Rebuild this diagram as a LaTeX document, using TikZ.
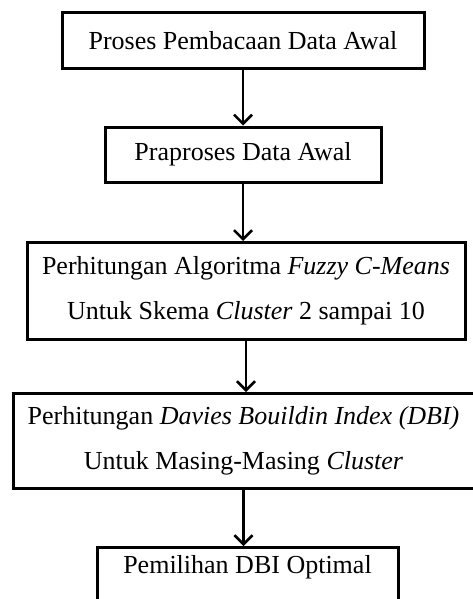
\documentclass[tikz,border=0pt]{standalone}
\usepackage{fontspec}
\setmainfont{Liberation Serif}
\usetikzlibrary{arrows.meta}

\begin{document}
\begin{tikzpicture}[
        x=1pt,
        y=1pt,
        box/.style={
            draw,
            rectangle,
            line width=3pt,
            inner sep=0pt,
            align=center,
            font=\fontsize{26}{45}\selectfont,
        },
    ]
    \useasboundingbox (0, 0) rectangle (473, -599);
    \clip (0, 0) rectangle (473, -599);

    \node[box, minimum width=362pt, minimum height=56pt] (s1) at (243, -41) {Proses Pembacaan Data Awal};
    \node[box, minimum width=276pt, minimum height=55pt] (s2) at (243, -154.5) {Praproses Data Awal};
    \node[box, minimum width=438pt, minimum height=97pt] (s3) at (246, -291) {Perhitungan Algoritma \textit{Fuzzy C-Means}\\Untuk Skema \textit{Cluster} 2 sampai 10};
    \node[box, minimum width=461pt, minimum height=95pt] (s4) at (243.5, -441) {Perhitungan \textit{Davies Bouildin Index (DBI)}\\Untuk Masing-Masing \textit{Cluster}};
    \node[box, minimum width=301pt, text height=26pt, text depth=50pt, anchor=north] (s5) at (247.5, -546) {Pemilihan DBI Optimal};

    \begin{scope}[line width=2.5pt, -{Straight Barb[length=9pt, width=18pt]}]
        \draw (s1.south) -- (s1.south |- s2.north);
        \draw (s2.south) -- (s2.south |- s3.north);
        \draw (s3.south) -- (s3.south |- s4.north);
        \draw (s4.south) -- (s4.south |- s5.north);
    \end{scope}
\end{tikzpicture}
\end{document}
